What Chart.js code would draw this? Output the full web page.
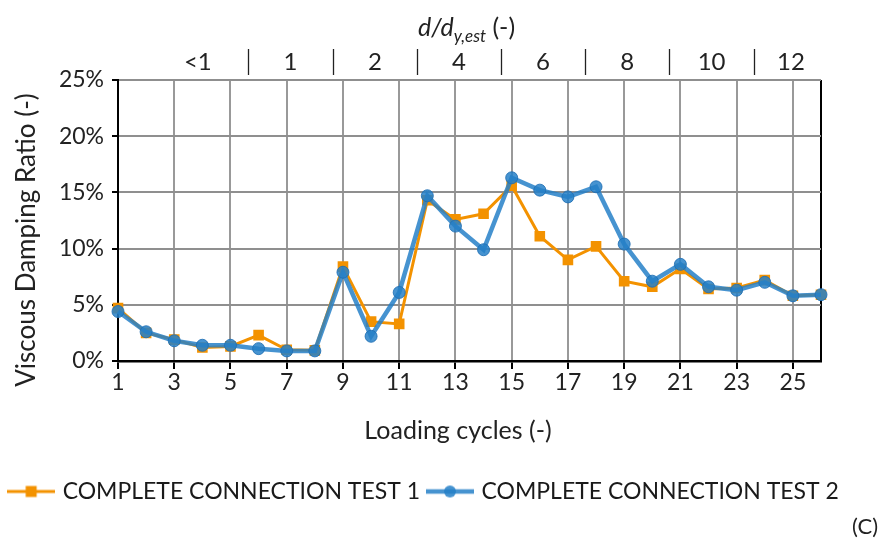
<!DOCTYPE html>
<html>
<head>
<meta charset="utf-8">
<script src="https://cdn.jsdelivr.net/npm/chart.js@4"></script>
<style>
  html, body { margin: 0; padding: 0; background: #fff; }
  #wrap { width: 885px; height: 547px; }
</style>
</head>
<body>
<div id="wrap"><canvas id="dampingChart"></canvas></div>
<script>
// loading cycles and damping ratio (%) for the two complete connection tests
const cycles = ['1','2','3','4','5','6','7','8','9','10','11','12','13','14','15','16','17','18','19','20','21','22','23','24','25','26'];
const test1 = [4.7, 2.5, 1.9, 1.2, 1.3, 2.3, 1.0, 0.95, 8.4, 3.5, 3.3, 14.3, 12.6, 13.1, 15.6, 11.1, 9.0, 10.2, 7.1, 6.6, 8.2, 6.4, 6.5, 7.2, 5.8, 5.9];
const test2 = [4.4, 2.6, 1.8, 1.4, 1.4, 1.1, 0.9, 0.9, 7.9, 2.2, 6.1, 14.7, 12.0, 9.9, 16.3, 15.2, 14.6, 15.5, 10.4, 7.1, 8.6, 6.6, 6.3, 7.0, 5.8, 5.9];
const ductilityLabels = ['<1', '1', '2', '4', '6', '8', '10', '12'];

const ORANGE = '#F39200';
const BLUE = 'rgba(38, 128, 200, 0.85)';
const FONT = 'Lato, "Open Sans", sans-serif';

Chart.defaults.font.family = FONT;
Chart.defaults.font.size = 23;
Chart.defaults.color = '#222';

// separators of the d/dy,est groups, in cycle units
const groupSeps = [2.06, 5.62, 8.65, 11.63, 14.62, 17.61, 20.6, 23.62, 26.24];

function legendIcon(color, lineW, marker) {
    const c = document.createElement('canvas');
    c.width = 48;
    c.height = 16;
    const g = c.getContext('2d');
    g.strokeStyle = color;
    g.lineWidth = lineW;
    g.beginPath();
    g.moveTo(0, 8);
    g.lineTo(48, 8);
    g.stroke();
    g.fillStyle = color;
    if (marker === 'rect') {
        g.fillRect(18.5, 2.5, 11, 11);
    } else {
        g.beginPath();
        g.arc(24, 8, 6, 0, Math.PI * 2);
        g.fill();
    }
    return c;
}
const icons = [legendIcon(ORANGE, 3, 'rect'), legendIcon(BLUE, 4.5, 'circle')];

// axis titles, top d/dy,est axis and panel tag
const annotationsPlugin = {
    id: 'annotations',
    afterDraw(chart) {
        const ctx = chart.ctx;
        const x = chart.scales.x;
        const px = c => x.getPixelForValue(c - 1);
        ctx.save();
        ctx.fillStyle = '#222';

        // axis titles
        ctx.textAlign = 'center';
        ctx.textBaseline = 'middle';
        ctx.font = '25px ' + FONT;
        ctx.fillText('Loading cycles (-)', 458, 431);
        ctx.save();
        ctx.translate(27, 240);
        ctx.rotate(-Math.PI / 2);
        ctx.font = '26px ' + FONT;
        ctx.fillText('Viscous Damping Ratio (-)', 0, 0);
        ctx.restore();

        // title d/d_y,est (-)
        ctx.textAlign = 'left';
        ctx.textBaseline = 'alphabetic';
        const big = 'italic 25px ' + FONT;
        const small = 'italic 17px ' + FONT;
        const plain = '25px ' + FONT;
        ctx.font = big; const w1 = ctx.measureText('d/d').width;
        ctx.font = small; const w2 = ctx.measureText('y,est').width;
        ctx.font = plain; const w3 = ctx.measureText(' (-)').width;
        let tx = (chart.chartArea.left + chart.chartArea.right) / 2 - (w1 + w2 + w3) / 2 - 3;
        ctx.font = big; ctx.fillText('d/d', tx, 36); tx += w1;
        ctx.font = small; ctx.fillText('y,est', tx, 42); tx += w2;
        ctx.font = plain; ctx.fillText(' (-)', tx, 36);

        // group labels and separators
        ctx.textAlign = 'center';
        ctx.textBaseline = 'middle';
        ctx.font = '24px ' + FONT;
        ductilityLabels.forEach((lab, i) => {
            const cx = (px(groupSeps[i]) + px(groupSeps[i + 1])) / 2;
            ctx.fillText(lab, cx, 62);
        });
        ctx.strokeStyle = '#222';
        ctx.lineWidth = 1.3;
        for (let i = 1; i < groupSeps.length - 1; i++) {
            const sx = Math.round(px(groupSeps[i])) + 0.5;
            ctx.beginPath();
            ctx.moveTo(sx, 49);
            ctx.lineTo(sx, 75);
            ctx.stroke();
        }

        // panel tag
        ctx.textAlign = 'right';
        ctx.font = '22px ' + FONT;
        ctx.fillText('(C)', 878, 527);
        ctx.restore();
    }
};

new Chart(document.getElementById('dampingChart'), {
    type: 'line',
    data: {
        labels: cycles,
        datasets: [{
            label: 'COMPLETE CONNECTION TEST 1',
            data: test1,
            borderColor: ORANGE,
            backgroundColor: ORANGE,
            borderWidth: 3,
            pointStyle: 'rect',
            pointRadius: 7.5,
            pointBorderWidth: 0,
            tension: 0,
            order: 1
        }, {
            label: 'COMPLETE CONNECTION TEST 2',
            data: test2,
            borderColor: BLUE,
            backgroundColor: BLUE,
            pointBorderColor: 'rgba(30, 110, 180, 0.85)',
            borderWidth: 4.5,
            pointStyle: 'circle',
            pointRadius: 6,
            pointBorderWidth: 1,
            tension: 0,
            order: 0
        }]
    },
    options: {
        responsive: true,
        maintainAspectRatio: false,
        animation: false,
        layout: { padding: { top: 80, left: 0, right: 35, bottom: 34 } },
        plugins: {
            tooltip: { enabled: false },
            legend: {
                position: 'bottom',
                labels: {
                    usePointStyle: true,
                    pointStyleWidth: 40,
                    padding: 10,
                    color: '#1a1a1a',
                    font: { size: 23 },
                    sort: (a, b) => a.datasetIndex - b.datasetIndex,
                    generateLabels(chart) {
                        const items = Chart.defaults.plugins.legend.labels.generateLabels(chart);
                        items.forEach(it => { it.pointStyle = icons[it.datasetIndex]; });
                        return items;
                    }
                }
            }
        },
        scales: {
            x: {
                type: 'category',
                offset: false,
                afterFit(scale) { scale.height = 109; },
                border: { color: '#000', width: 2.5 },
                grid: {
                    lineWidth: 2,
                    tickLength: 8,
                    color: c => c.index === 25 ? '#000' : (c.index % 2 === 0 ? '#999' : 'rgba(0,0,0,0)'),
                    tickColor: c => (c.index % 2 === 0 && c.index < 25) ? '#000' : 'rgba(0,0,0,0)'
                },
                ticks: {
                    autoSkip: false,
                    maxRotation: 0,
                    padding: 0,
                    font: { size: 23 },
                    callback(val, i) { return (i % 2 === 0 && i < 25) ? this.getLabelForValue(val) : ''; }
                }
            },
            y: {
                min: 0,
                max: 25,
                afterFit(scale) { scale.width = 118; },
                border: { color: '#000', width: 2 },
                grid: {
                    tickLength: 6,
                    lineWidth: c => c.tick.value % 5 === 0 ? 2 : 1.5,
                    color: c => c.tick.value % 5 === 0 ? '#8f8f8f' : '#d3d3d3',
                    tickColor: c => c.tick.value % 5 === 0 ? '#000' : 'rgba(0,0,0,0)'
                },
                ticks: {
                    stepSize: 2.5,
                    padding: 8,
                    font: { size: 23 },
                    callback: v => v % 5 === 0 ? v + '%' : ''
                }
            },
            // empty right-hand axis, only reserves the margin right of the plot
            yGap: {
                position: 'right',
                display: true,
                afterFit(scale) { scale.width = 29; },
                grid: { display: false },
                border: { display: false },
                ticks: { display: false }
            }
        }
    },
    plugins: [annotationsPlugin]
});
</script>
</body>
</html>
